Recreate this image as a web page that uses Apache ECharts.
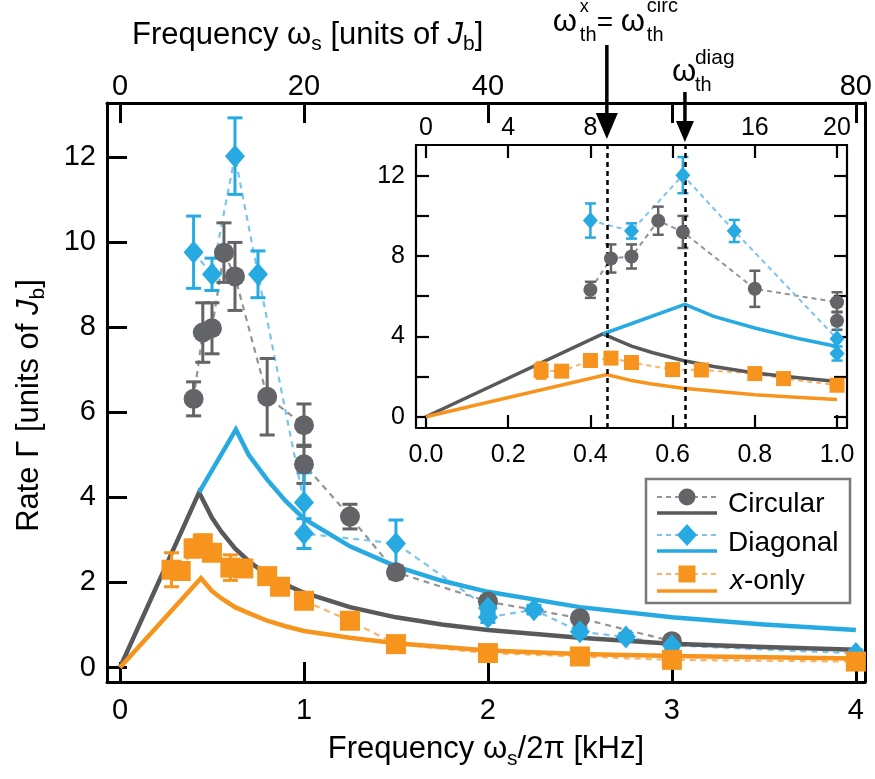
<!DOCTYPE html>
<html>
<head>
<meta charset="utf-8">
<script src="https://cdn.jsdelivr.net/npm/echarts@6/dist/echarts.min.js"></script>
<style>
html,body{margin:0;padding:0;background:#fff;}
#chart{width:875px;height:779px;}
</style>
</head>
<body>
<div id="chart"></div>
<script>
// ---------------- data ----------------
// Circular (gray circles), x in kHz
const circX   = [0.40, 0.45, 0.50, 0.565, 0.625, 0.80, 1.0, 1.0, 1.25, 1.5, 2.0, 2.5, 3.0];
const circY   = [6.32, 7.88, 7.98, 9.76, 9.20, 6.37, 5.70, 4.78, 3.55, 2.24, 1.55, 1.16, 0.62];
const circErr = [0.40, 0.70, 0.60, 0.70, 0.80, 0.90, 0.50, 0.45, 0.29, 0.15, 0.12, 0.10, 0.10];
// Diagonal (blue diamonds)
const diagX   = [0.40, 0.50, 0.625, 0.75, 1.0, 1.0, 1.5, 2.0, 2.0, 2.25, 2.5, 2.75, 3.0, 4.0];
const diagY   = [9.77, 9.25, 12.03, 9.25, 3.88, 3.15, 2.92, 1.40, 1.18, 1.36, 0.84, 0.72, 0.52, 0.33];
const diagErr = [0.85, 0.38, 0.90, 0.55, 0.70, 0.35, 0.55, 0.12, 0.12, 0.10, 0.10, 0.08, 0.08, 0.08];
// x-only (orange squares)
const xonX    = [0.28, 0.33, 0.40, 0.45, 0.50, 0.60, 0.67, 0.80, 0.87, 1.0, 1.25, 1.5, 2.0, 2.5, 3.0, 4.0];
const xonY    = [2.30, 2.27, 2.80, 2.92, 2.70, 2.35, 2.33, 2.15, 1.90, 1.57, 1.10, 0.55, 0.34, 0.26, 0.18, 0.14];
const xonErr  = [0.40, 0.15, 0.20, 0.20, 0.15, 0.30, 0.15, 0.15, 0.15, 0.12, 0.10, 0.08, 0.08, 0.06, 0.06, 0.06];
// theory curves
const circThX = [0, 0.43, 0.50, 0.55, 0.625, 0.70, 0.80, 0.90, 1.0, 1.25, 1.5, 1.75, 2.0, 2.5, 3.0, 3.5, 4.0];
const circThY = [0, 4.12, 3.52, 3.20, 2.80, 2.50, 2.18, 1.95, 1.76, 1.42, 1.18, 1.01, 0.88, 0.70, 0.56, 0.48, 0.42];
const diagThX = [0.43, 0.63, 0.70, 0.80, 0.90, 1.0, 1.25, 1.5, 1.75, 2.0, 2.5, 3.0, 3.5, 4.0];
const diagThY = [4.12, 5.60, 5.00, 4.42, 3.92, 3.50, 2.85, 2.38, 2.04, 1.78, 1.42, 1.18, 1.01, 0.88];
const xonThX  = [0, 0.44, 0.50, 0.55, 0.625, 0.70, 0.80, 0.90, 1.0, 1.25, 1.5, 2.0, 2.5, 3.0, 3.5, 4.0];
const xonThY  = [0, 2.10, 1.80, 1.63, 1.42, 1.28, 1.10, 0.97, 0.86, 0.70, 0.57, 0.40, 0.32, 0.27, 0.24, 0.21];
// thresholds (kHz)
const thresholds = [0.44, 0.63];
// ticks
const mainXTicks = [0, 1, 2, 3, 4];
const mainTopTicks = [0, 20, 40, 60, 80];
const mainTopLabels = [0, 20, 40, 80];
const mainYTicks = [0, 2, 4, 6, 8, 10, 12];
const insetXTicks = [0, 0.2, 0.4, 0.6, 0.8, 1.0];
const insetTopTicks = [0, 4, 8, 12, 16, 20];
const insetTopLabels = [0, 4, 8, 16, 20];
const insetYTicks = [0, 2, 4, 6, 8, 10, 12];
const insetYLabels = [0, 4, 8, 12];

// ---------------- styling ----------------
const FONT = "'Liberation Sans', Arial, Helvetica, sans-serif";
const C = {
  circM: '#636467', circD: '#939496', circT: '#58595b',
  diagM: '#27aae1', diagD: '#7cc4ea', diagT: '#27aae1',
  xonM: '#f7941d', xonD: '#f9b46a', xonT: '#f7941d'
};

function zip2(a, b) { return a.map((v, i) => [v, b[i]]); }
function zip3(a, b, c) { return a.map((v, i) => [v, b[i], c[i]]); }
function upTo(arr, lim) { return arr.filter(p => p[0] <= lim + 1e-9); }

function errRender(capW, lw, color) {
  return function (params, api) {
    const x = api.value(0), y = api.value(1), e = api.value(2);
    const t = api.coord([x, y + e]);
    const b = api.coord([x, y - e]);
    const cx = t[0];
    const st = { stroke: color, lineWidth: lw };
    return {
      type: 'group', children: [
        { type: 'line', shape: { x1: cx, y1: t[1], x2: cx, y2: b[1] }, style: st },
        { type: 'line', shape: { x1: cx - capW / 2, y1: t[1], x2: cx + capW / 2, y2: t[1] }, style: st },
        { type: 'line', shape: { x1: cx - capW / 2, y1: b[1], x2: cx + capW / 2, y2: b[1] }, style: st }
      ]
    };
  };
}

function buildSeries(xi, yi, lim, big) {
  const S = [];
  const dw = big ? 2.2 : 2;
  const dash = big ? [6, 5] : [5, 4];
  const tw = big ? 4.5 : 3.5;
  const capW = big ? 15 : 11;
  const ew = big ? 3 : 2.5;
  const sC = big ? 20 : 14, sD = big ? [20, 23] : [15, 17], sS = big ? 20 : 15;
  const sets = [
    { x: circX, y: circY, e: circErr, m: C.circM, d: C.circD, sym: 'circle', size: sC },
    { x: diagX, y: diagY, e: diagErr, m: C.diagM, d: C.diagD, sym: 'diamond', size: sD },
    { x: xonX, y: xonY, e: xonErr, m: C.xonM, d: C.xonD, sym: 'rect', size: sS }
  ];
  sets.forEach(s => S.push({
    type: 'line', xAxisIndex: xi, yAxisIndex: yi, data: upTo(zip2(s.x, s.y), lim),
    showSymbol: false, symbol: 'none', lineStyle: { color: s.d, width: dw, type: dash }, z: 2, silent: true
  }));
  [[circThX, circThY, C.circT], [diagThX, diagThY, C.diagT], [xonThX, xonThY, C.xonT]].forEach(t => S.push({
    type: 'line', xAxisIndex: xi, yAxisIndex: yi, data: upTo(zip2(t[0], t[1]), lim),
    symbol: 'none', lineStyle: { color: t[2], width: tw, cap: 'butt', join: 'miter' }, z: 3, silent: true
  }));
  sets.forEach(s => S.push({
    type: 'custom', xAxisIndex: xi, yAxisIndex: yi, data: upTo(zip3(s.x, s.y, s.e), lim),
    encode: { x: 0, y: 1 }, renderItem: errRender(capW, ew, s.m), z: 4, silent: true, clip: true
  }));
  sets.forEach(s => S.push({
    type: 'scatter', xAxisIndex: xi, yAxisIndex: yi, data: upTo(zip2(s.x, s.y), lim),
    symbol: s.sym, symbolSize: s.size, itemStyle: { color: s.m, opacity: 1 }, z: 5, silent: true
  }));
  return S;
}

const insetSeries = buildSeries(2, 2, 1.0, false);
insetSeries.push({
  type: 'line', xAxisIndex: 2, yAxisIndex: 2, data: [], z: 6, silent: true,
  markLine: {
    silent: true, symbol: ['none', 'none'], label: { show: false },
    lineStyle: { color: '#000', width: 2.5, type: [5, 4] },
    data: thresholds.map(v => ({ xAxis: v }))
  }
});

const TITLE_FS = 31;
const richSub = {
  sub: { fontSize: 21, lineHeight: 18, verticalAlign: 'bottom', fontFamily: FONT, color: '#000' },
  it: { fontSize: TITLE_FS, lineHeight: 40, fontStyle: 'italic', fontFamily: FONT, color: '#000' }
};
const titleStyle = { fontSize: TITLE_FS, color: '#000', fontFamily: FONT, lineHeight: 40, rich: richSub };

function tickAxis(opts) {
  return Object.assign({
    type: 'value',
    splitLine: { show: false },
    axisLine: { show: true, onZero: false, lineStyle: { color: '#000', width: 3 } }
  }, opts);
}

const mainLbl = { fontSize: 29, color: '#000', fontFamily: FONT };
const insLbl = { fontSize: 25, color: '#000', fontFamily: FONT };

const option = {
  animation: false,
  backgroundColor: '#fff',
  title: {
    text: 'Frequency ω{sub|s} [units of {it|J}{sub|b}]',
    left: 127, top: 10,
    textStyle: Object.assign({ fontWeight: 'normal' }, titleStyle)
  },
  grid: [
    { left: 107, top: 103, width: 758, height: 579 },
    { left: 416, top: 145, width: 431, height: 283, show: true, backgroundColor: '#fff', borderWidth: 0 }
  ],
  xAxis: [
    tickAxis({
      gridIndex: 0, position: 'bottom', min: -0.0707, max: 4.049,
      axisTick: { show: true, inside: true, length: 20, lineStyle: { color: '#000', width: 3 }, customValues: mainXTicks },
      axisLabel: Object.assign({ margin: 14, customValues: mainXTicks }, mainLbl),
      name: 'Frequency ω{sub|s}/2π [kHz]', nameLocation: 'middle', nameGap: 44,
      nameTextStyle: titleStyle
    }),
    tickAxis({
      gridIndex: 0, position: 'top', min: -1.414, max: 80.98,
      axisTick: { show: true, inside: true, length: 20, lineStyle: { color: '#000', width: 3 }, customValues: mainTopTicks },
      axisLabel: Object.assign({ margin: 2, customValues: mainTopLabels }, mainLbl)
    }),
    tickAxis({
      gridIndex: 1, position: 'bottom', min: -0.0243, max: 1.0243,
      axisLine: { show: true, onZero: false, lineStyle: { color: '#000', width: 2.2 } },
      axisTick: { show: true, inside: true, length: 13, lineStyle: { color: '#000', width: 2.2 }, customValues: insetXTicks },
      axisLabel: Object.assign({ margin: 15, customValues: insetXTicks, formatter: v => Number(v).toFixed(1) }, insLbl)
    }),
    tickAxis({
      gridIndex: 1, position: 'top', min: -0.487, max: 20.487,
      axisLine: { show: true, onZero: false, lineStyle: { color: '#000', width: 2.2 } },
      axisTick: { show: true, inside: true, length: 13, lineStyle: { color: '#000', width: 2.2 }, customValues: insetTopTicks },
      axisLabel: Object.assign({ margin: 4, customValues: insetTopLabels }, insLbl)
    })
  ],
  yAxis: [
    tickAxis({
      gridIndex: 0, position: 'left', min: -0.341, max: 13.28,
      axisTick: { show: true, inside: true, length: 20, lineStyle: { color: '#000', width: 3 }, customValues: mainYTicks },
      axisLabel: Object.assign({ margin: 11, customValues: mainYTicks }, mainLbl),
      name: 'Rate Γ [units of {it|J}{sub|b}]', nameLocation: 'middle', nameGap: 58, nameRotate: 90,
      nameTextStyle: Object.assign({}, titleStyle, { padding: [0, 26, 0, 0] })
    }),
    tickAxis({
      gridIndex: 0, position: 'right', min: -0.341, max: 13.28,
      axisTick: { show: false }, axisLabel: { show: false }
    }),
    tickAxis({
      gridIndex: 1, position: 'left', min: -0.56, max: 13.53,
      axisLine: { show: true, onZero: false, lineStyle: { color: '#000', width: 2.2 } },
      axisTick: { show: true, inside: true, length: 13, lineStyle: { color: '#000', width: 2.2 }, customValues: insetYTicks },
      axisLabel: Object.assign({ margin: 11, customValues: insetYLabels }, insLbl)
    }),
    tickAxis({
      gridIndex: 1, position: 'right', min: -0.56, max: 13.53,
      axisLine: { show: true, onZero: false, lineStyle: { color: '#000', width: 2.2 } },
      axisTick: { show: true, inside: true, length: 13, lineStyle: { color: '#000', width: 2.2 }, customValues: insetYTicks },
      axisLabel: { show: false }
    })
  ],
  series: buildSeries(0, 0, 10, true).concat(insetSeries)
};

const chart = echarts.init(document.getElementById('chart'), null, { renderer: 'canvas' });
chart.setOption(option);

// ---------------- annotations: arrows + legend ----------------
const ax1 = chart.convertToPixel({ xAxisIndex: 2 }, thresholds[0]);
const ax2 = chart.convertToPixel({ xAxisIndex: 2 }, thresholds[1]);

function txt(text, x, y, size, extra) {
  return {
    type: 'text', z: 100,
    style: Object.assign({ text: text, x: x, y: y, font: size + 'px ' + FONT, fill: '#000', align: 'left', verticalAlign: 'middle' }, extra || {})
  };
}

const G = [];
G.push({ type: 'line', z: 100, shape: { x1: ax1, y1: 45, x2: ax1, y2: 118 }, style: { stroke: '#000', lineWidth: 3.5 } });
G.push({ type: 'polygon', z: 100, shape: { points: [[ax1 - 11, 113], [ax1 + 11, 113], [ax1, 139]] }, style: { fill: '#000' } });
G.push({ type: 'line', z: 100, shape: { x1: ax2, y1: 92, x2: ax2, y2: 124 }, style: { stroke: '#000', lineWidth: 3.5 } });
G.push({ type: 'polygon', z: 100, shape: { points: [[ax2 - 9, 121], [ax2 + 9, 121], [ax2, 142]] }, style: { fill: '#000' } });
const l1 = ax1 - 54;
G.push(txt('ω', l1, 22, 31));
G.push(txt('x', l1 + 27, 7, 18));
G.push(txt('th', l1 + 27, 35, 20));
G.push(txt('=', l1 + 44, 23, 28));
G.push(txt('ω', l1 + 68, 22, 31));
G.push(txt('circ', l1 + 94, 6, 20));
G.push(txt('th', l1 + 94, 35, 20));
const l2 = ax2 - 13;
G.push(txt('ω', l2, 72, 31));
G.push(txt('diag', l2 + 23, 58, 21));
G.push(txt('th', l2 + 23, 85, 20));

const LB = { x: 646, y: 479, w: 204, h: 124 };
G.push({ type: 'rect', z: 100, shape: { x: LB.x, y: LB.y, width: LB.w, height: LB.h }, style: { fill: '#fff', stroke: '#7a7a7a', lineWidth: 2.5 } });
const rows = [
  { my: 497, sy: 513, ty: 504, d: C.circD, m: C.circM, t: C.circT, sym: 'circle', label: 'Circular' },
  { my: 535, sy: 551, ty: 543, d: C.diagD, m: C.diagM, t: C.diagT, sym: 'diamond', label: 'Diagonal' },
  { my: 574, sy: 591, ty: 581, d: C.xonD, m: C.xonM, t: C.xonT, sym: 'rect', label: 'x-only' }
];
rows.forEach(r => {
  G.push({ type: 'line', z: 101, shape: { x1: 657, y1: r.my, x2: 717, y2: r.my }, style: { stroke: r.d, lineWidth: 2, lineDash: [5, 4] } });
  G.push({ type: 'line', z: 101, shape: { x1: 657, y1: r.sy, x2: 717, y2: r.sy }, style: { stroke: r.t, lineWidth: 3.5 } });
  if (r.sym === 'circle') G.push({ type: 'circle', z: 102, shape: { cx: 687, cy: r.my, r: 8.5 }, style: { fill: r.m } });
  if (r.sym === 'diamond') G.push({ type: 'polygon', z: 102, shape: { points: [[687, r.my - 11], [697, r.my], [687, r.my + 11], [677, r.my]] }, style: { fill: r.m } });
  if (r.sym === 'rect') G.push({ type: 'rect', z: 102, shape: { x: 678.5, y: r.my - 8.5, width: 17, height: 17 }, style: { fill: r.m } });
  if (r.label === 'x-only') {
    G.push({ type: 'text', z: 102, style: { text: '{i|x}-only', x: 730, y: r.ty, font: '28px ' + FONT, fill: '#000', verticalAlign: 'middle',
      rich: { i: { fontStyle: 'italic', fontSize: 28, fontFamily: FONT, fill: '#000' } } } });
  } else {
    G.push(txt(r.label, 728, r.ty, 28));
  }
});

chart.setOption({ graphic: { elements: G } });
</script>
</body>
</html>
